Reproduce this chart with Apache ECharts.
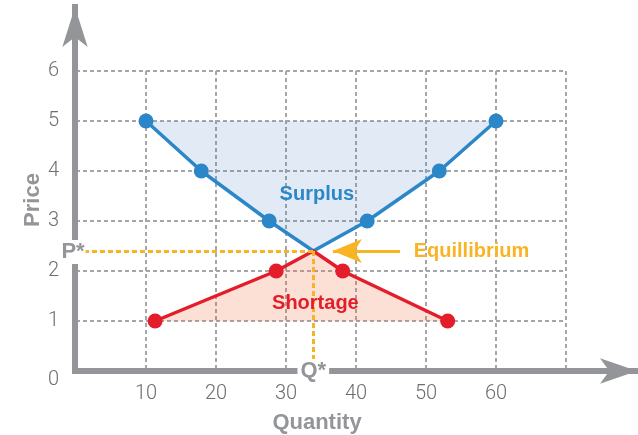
<!DOCTYPE html>
<html>
<head>
<meta charset="utf-8">
<script src="https://cdn.jsdelivr.net/npm/echarts@6/dist/echarts.min.js"></script>
<style>html,body{margin:0;padding:0;background:#fff;}#chart{width:638px;height:435px;}</style>
</head>
<body>
<div id="chart"></div>
<script>
// Data
const xTickLabels = [10, 20, 30, 40, 50, 60];
const yTickLabels = [0, 1, 2, 3, 4, 5, 6];
const surplusQty = [10, 17.9, 27.6, 33.9, 41.6, 51.9, 60];
const surplusPrice = [5, 4, 3, 2.4, 3, 4, 5];
const shortageQty = [11.3, 28.6, 33.9, 38.1, 53.1];
const shortagePrice = [1, 2, 2.4, 2, 1];
const eqQty = 33.9;
const eqPrice = 2.4;

const BLUE = '#2c87c9', RED = '#e31d2a', ORANGE = '#f9b424', AXIS = '#939598', TICK = '#6d6e71';
const BOLD = 'Liberation Sans';

function pts(xs, ys, eqIndex) {
  return xs.map((x, i) => i === eqIndex ? { value: [x, ys[i]], symbol: 'none' } : [x, ys[i]]);
}

const chart = echarts.init(document.getElementById('chart'), null, { renderer: 'canvas' });
chart.setOption({
  animation: false,
  grid: [
    { left: 76, top: 71, width: 490, height: 300, outerBoundsMode: 'none', containLabel: false },
    { left: 75, top: 7, right: 1, bottom: 64, outerBoundsMode: 'none', containLabel: false }
  ],
  xAxis: [
    {
      gridIndex: 0, type: 'value', min: 0, max: 70, interval: 10,
      axisLine: { show: false }, axisTick: { show: false },
      axisLabel: {
        margin: 13, fontSize: 20, color: TICK, fontFamily: 'Roboto', fontWeight: 300,
        formatter: v => xTickLabels.includes(v) ? String(v) : ''
      },
      splitLine: { show: true, lineStyle: { color: '#a5a6a9', width: 2, type: [4, 3] } },
      name: 'Quantity', nameLocation: 'middle', nameGap: 41,
      nameTextStyle: { fontFamily: BOLD, fontWeight: 'bold', fontSize: 22, color: AXIS, padding: [0, 8, 0, 0] }
    },
    {
      gridIndex: 1, type: 'value', min: 0, max: 1,
      axisLine: { show: true, symbol: ['none', 'arrow'], symbolSize: [19, 37], lineStyle: { color: AXIS, width: 6, cap: 'square' } },
      axisTick: { show: false }, axisLabel: { show: false }, splitLine: { show: false }
    }
  ],
  yAxis: [
    {
      gridIndex: 0, type: 'value', min: 0, max: 6, interval: 1,
      axisLine: { show: false }, axisTick: { show: false },
      axisLabel: {
        margin: 17, fontSize: 20, color: TICK, fontFamily: 'Roboto', fontWeight: 300,
        formatter: v => yTickLabels.includes(v) ? (v === 0 ? '{z|0}' : String(v)) : '',
        rich: { z: { padding: [18, 0, 0, 0], fontSize: 20, color: TICK, fontFamily: 'Roboto', fontWeight: 300 } }
      },
      splitLine: { show: true, lineStyle: { color: '#a5a6a9', width: 2, type: [4, 3] } }
    },
    {
      gridIndex: 1, type: 'value', min: 0, max: 1,
      axisLine: { show: true, symbol: ['none', 'arrow'], symbolSize: [19, 40], lineStyle: { color: AXIS, width: 6, cap: 'square' } },
      axisTick: { show: false }, axisLabel: { show: false }, splitLine: { show: false },
      name: 'Price', nameLocation: 'middle', nameGap: 31, nameRotate: 90,
      nameTextStyle: { fontFamily: BOLD, fontWeight: 'bold', fontSize: 22, color: AXIS, padding: [0, 22, 0, 0] }
    }
  ],
  series: [
    {
      name: 'Surplus', type: 'line', xAxisIndex: 0, yAxisIndex: 0,
      data: pts(surplusQty, surplusPrice, 3),
      symbol: 'circle', symbolSize: 15, z: 3,
      lineStyle: { color: BLUE, width: 3.5 }, itemStyle: { color: BLUE },
      areaStyle: { origin: 5, color: 'rgba(74,124,199,0.16)', opacity: 1 }
    },
    {
      name: 'Shortage', type: 'line', xAxisIndex: 0, yAxisIndex: 0,
      data: pts(shortageQty, shortagePrice, 2),
      symbol: 'circle', symbolSize: 15, z: 4,
      lineStyle: { color: RED, width: 3.5 }, itemStyle: { color: RED },
      areaStyle: { origin: 1, color: 'rgba(240,100,50,0.2)', opacity: 1 }
    },
    {
      name: 'Equilibrium', type: 'line', xAxisIndex: 0, yAxisIndex: 0, data: [], z: 5,
      markLine: {
        silent: true, animation: false, symbol: 'none',
        label: { show: false },
        data: [
          [{ coord: [0, eqPrice], lineStyle: { color: ORANGE, width: 3, type: [5, 3] } }, { coord: [eqQty, eqPrice] }],
          [{ coord: [eqQty, eqPrice], lineStyle: { color: ORANGE, width: 3, type: [5, 3] } }, { coord: [eqQty, 0] }],
          [{ coord: [46.3, eqPrice], symbol: 'none', lineStyle: { color: ORANGE, width: 3, type: 'solid' } },
           { coord: [36.7, eqPrice], symbol: 'arrow', symbolSize: [18, 29] }]
        ]
      }
    },
    {
      name: 'Annotations', type: 'scatter', xAxisIndex: 0, yAxisIndex: 0, clip: false, z: 6,
      symbolSize: 1, itemStyle: { color: 'rgba(0,0,0,0)', opacity: 1 }, silent: true,
      label: { show: true, position: 'inside', fontFamily: BOLD, fontWeight: 'bold', opacity: 1 },
      data: [
        { value: [34.4, 3.53], label: { formatter: 'Surplus', fontSize: 20, color: BLUE } },
        { value: [34.2, 1.36], label: { formatter: 'Shortage', fontSize: 20, color: RED } },
        { value: [56.5, eqPrice], label: { formatter: 'Equillibrium', fontSize: 20, color: ORANGE } },
        { value: [-0.5, 2.38], label: { formatter: 'P*', fontSize: 22, color: AXIS, backgroundColor: '#fff', padding: [1, 1, 1, 2] } },
        { value: [eqQty, 0], label: { formatter: 'Q*', fontSize: 22, color: AXIS, backgroundColor: '#fff', padding: [1, 3, 1, 3] } }
      ]
    }
  ]
});
</script>
</body>
</html>
